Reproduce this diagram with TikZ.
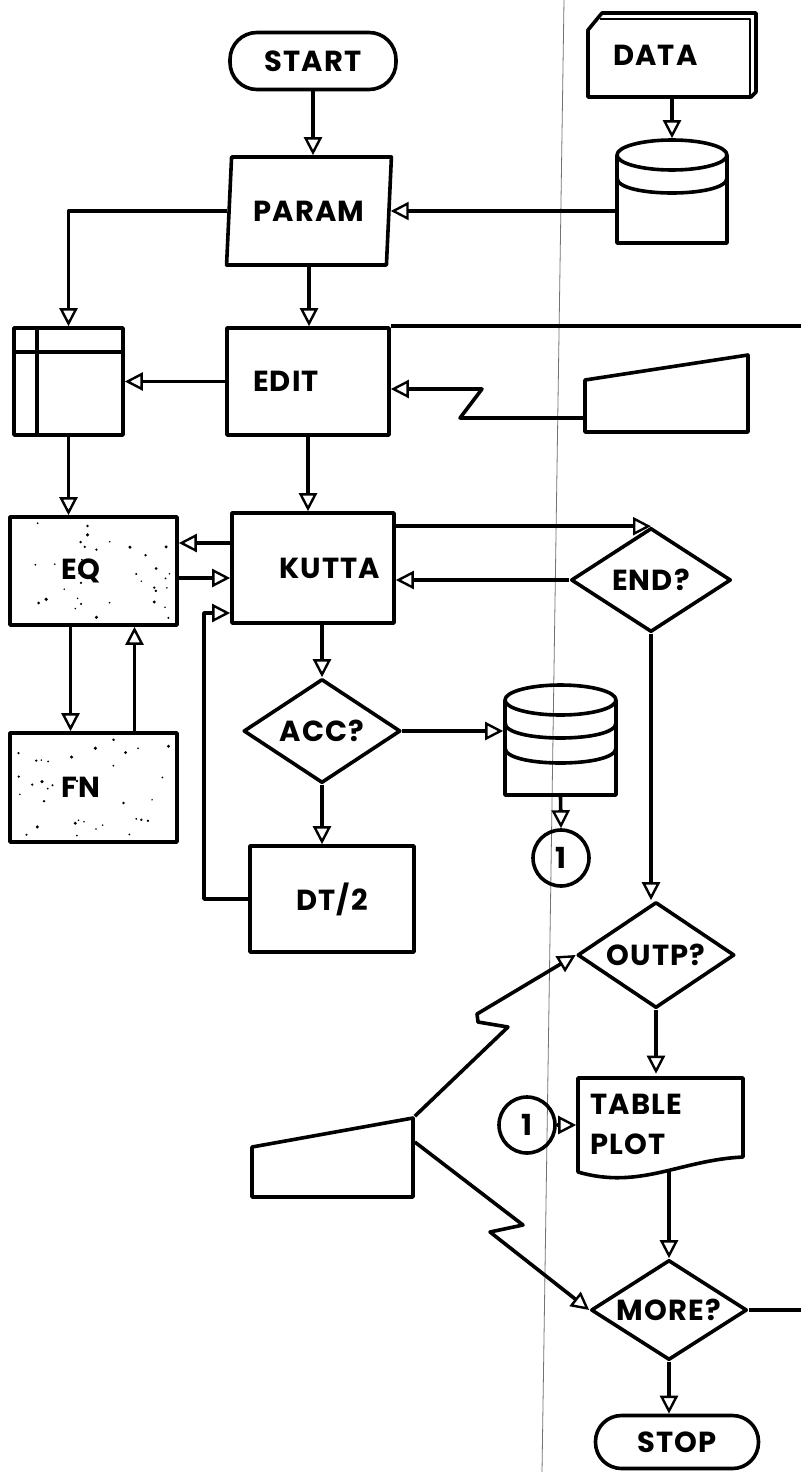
\documentclass[tikz,border=0pt]{standalone}
\usepackage{fontspec}
\setmainfont{Poppins}[LetterSpace=4]
\usepackage{tikz}
\usetikzlibrary{shapes,arrows.meta,positioning,calc}

\begin{document}
\begin{tikzpicture}[x=1pt, y=-1pt, line width=3.6pt, line join=round,
    font=\fontsize{29}{40}\selectfont\bfseries,
    box/.style={draw, rectangle, inner sep=0pt},
    term/.style={draw, rectangle, rounded corners=27pt, inner sep=0pt},
    decide/.style={draw, diamond, aspect=1.5, inner sep=0pt, minimum width=157pt, minimum height=104pt},
    hold/.style={rectangle, inner sep=0pt},
    conn/.style={draw, circle, inner sep=0pt, minimum size=56pt},
    arr/.style={-{Triangle[open, length=18pt, width=18pt, line width=2.4pt]}}]
    \useasboundingbox (0,0) rectangle (801,1472);
    % page fold
    \draw[line width=0.8pt, black!55] (564,0) -- (542,1472);

    % Start, parameters and data
    \node[term, minimum width=166pt, minimum height=57pt] (start) at (313,61) {START};
    \node[draw, trapezium, trapezium left angle=80, trapezium right angle=100, trapezium stretches=true,
          minimum width=165pt, minimum height=108pt, inner sep=0pt] (param) at (309,211) {PARAM};
    \draw (588,97) -- (588,30) -- (602,13) -- (756,13) -- (756,92) -- (751,97) -- cycle;
    \draw[line width=2.4pt] (600,19) -- (750,19) -- (750,97);
    \node[hold, minimum width=168pt, minimum height=84pt, text width=118pt, align=left] (data) at (672,55) {DATA};
    \draw (617,155) -- (617,243) -- (727,243) -- (727,155);
    \draw (672,155) ellipse [x radius=55pt, y radius=15pt];
    \draw (617,178) .. controls (617,198) and (727,198) .. (727,178);
    \node[hold, minimum width=110pt, minimum height=103pt] (disk1) at (672,191.5) {};

    % Edit row
    \node[box, minimum width=109pt, minimum height=107pt] (table) at (68.5,381.5) {};
    \draw (37,328) -- (37,435) (14,352) -- (123,352);
    \node[box, minimum width=162pt, minimum height=107pt, text width=110pt, align=left] (edit) at (308,381.5) {EDIT};
    \draw (585,380) -- (748,355) -- (748,432) -- (585,432) -- cycle;
    \node[hold, minimum width=163pt, minimum height=77pt] (keys1) at (666.5,393.5) {};

    % Integration row
    \node[box, minimum width=167pt, minimum height=108pt, text width=65pt, align=left] (eq) at (93.5,571) {EQ};
    \node[box, minimum width=167pt, minimum height=109pt, text width=65pt, align=left] (fn) at (93.5,787.5) {FN};
    \pgfmathsetseed{42}
    \foreach \i in {1,...,34} {
      \pgfmathsetmacro{\dr}{0.8+rnd}
      \fill ({16+155*rnd},{523+96*rnd}) circle (\dr pt);
      \fill ({16+155*rnd},{739+97*rnd}) circle (\dr pt);
    }
    \node[box, minimum width=162pt, minimum height=110pt, text width=134pt, align=right] (kutta) at (313,568) {KUTTA};
    \node[decide, minimum width=160pt] (endq) at (651,580) {END?};
    \node[decide] (acc) at (322,731) {ACC?};
    \draw (505,700) -- (505,795) -- (616,795) -- (616,700);
    \draw (560.5,700) ellipse [x radius=55.5pt, y radius=15pt];
    \draw (505,723) .. controls (505,743) and (616,743) .. (616,723);
    \draw (505,748) .. controls (505,768) and (616,768) .. (616,748);
    \node[hold, minimum width=111pt, minimum height=110pt] (disk2) at (560.5,740) {};
    \node[conn] (c1a) at (561,858) {1};
    \node[box, minimum width=164pt, minimum height=106pt] (dt2) at (332,899) {DT/2};

    % Output part
    \node[decide, minimum height=106pt] (outp) at (656,955) {OUTP?};
    \draw (578,1078) -- (743,1078) -- (743,1157) .. controls (680,1160) and (640,1190) .. (578,1172) -- cycle;
    \node[hold, minimum width=165pt, minimum height=97pt, text width=140pt, align=left] (tp) at (660.5,1124) {TABLE\\PLOT};
    \node[conn] (c1b) at (527,1125) {1};
    \draw (252,1147) -- (413,1118) -- (413,1197) -- (252,1197) -- cycle;
    \node[hold, minimum width=161pt, minimum height=79pt] (keys2) at (332.5,1157.5) {};
    \node[decide, minimum width=156pt, minimum height=100pt] (more) at (669,1310) {MORE?};
    \node[term, minimum width=163pt, minimum height=53pt, rounded corners=26pt] (stop) at (677,1442) {STOP};
    \coordinate (offedit) at (801,328);
    \coordinate (offmore) at (801,1310);

    % Connectors
    \draw[arr] (start.south) -- (start.south |- param.north);
    \draw[arr] (data.south) -- (disk1.north);
    \draw[arr] (param.east -| disk1.west) -- (param.east);
    \draw[arr] (param.west) -| (table.north);
    \draw[arr] (param.south) -- (param.south |- edit.north);
    \draw (edit.north east) -- (edit.north east -| offedit);
    \draw[arr] (edit.west) -- (edit.west -| table.east);
    \draw[arr] (keys1.west |- 0,418) -- (460,418) -- (482,389) -- (edit.east |- 0,389);
    \draw[arr] (table.south) -- (table.south |- eq.north);
    \draw[arr] (edit.south) -- (edit.south |- kutta.north);
    \draw[arr] (kutta.west |- 0,543) -- (eq.east |- 0,543);
    \draw[arr] (eq.east |- 0,578) -- (kutta.west |- 0,578);
    \draw[arr] ([xshift=-23pt]eq.south) -- ([xshift=-23pt]fn.north);
    \draw[arr] ([xshift=41pt]fn.north) -- ([xshift=41pt]eq.south);
    \draw[arr] (kutta.east |- endq.north) -- (endq.north);
    \draw[arr] (endq.west) -- (endq.west -| kutta.east);
    \draw[arr] (acc.north |- kutta.south) -- (acc.north);
    \draw[arr] (acc.east) -- (acc.east -| disk2.west);
    \draw[arr] (disk2.south) -- (c1a.north);
    \draw[arr] (acc.south) -- (acc.south |- dt2.north);
    \draw[arr] (dt2.west) -| (204,613) -- (kutta.west |- 0,613);
    \draw[arr] (endq.south) -- (endq.south |- outp.north);
    \draw[arr] (outp.south) -- (outp.south |- tp.north);
    \draw[arr] (c1b.east) -- (c1b.east -| tp.west);
    \draw[arr] (keys2.north east) -- (508,1027) -- (478,1022) -- (477,1014) -- (outp.west);
    \draw[arr] (keys2.east |- 0,1142) -- (523,1225) -- (490,1232) -- (more.west);
    \draw[arr] (more.north |- 0,1169) -- (more.north);
    \draw (more.east) -- (offmore);
    \draw[arr] (more.south) -- (more.south |- stop.north);
\end{tikzpicture}
\end{document}
